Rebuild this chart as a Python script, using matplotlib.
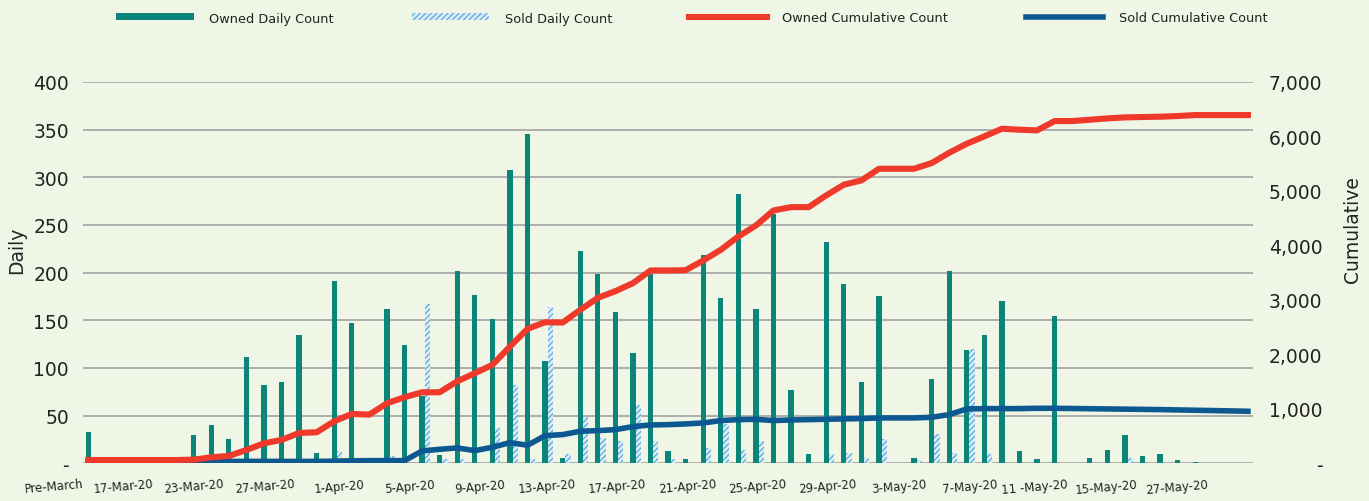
import numpy as np
import matplotlib.pyplot as plt
from matplotlib.patches import Patch
from matplotlib.lines import Line2D

# 数据
owned_daily = [33, 0, 0, 0, 0, 0, 30, 40, 26, 111, 82, 85, 135, 11, 191, 147, 0,
               162, 124, 71, 9, 202, 177, 151, 308, 345, 107, 6, 223, 199, 159, 116,
               199, 13, 4, 219, 173, 282, 162, 262, 77, 10, 232, 188, 85, 176, 0,
               6, 88, 202, 119, 135, 170, 13, 5, 154, 0, 6, 14, 30, 8, 10, 3, 1, 0.5,
               0, 0]
sold_daily = [0, 0, 0, 0, 0, 0, 0, 0, 0, 0, 0, 0, 0, 0, 13, 3, 0,
              8, 0, 167, 4, 4, 0, 37, 82, 4, 164, 10, 49, 27, 23, 61,
              23, 4, 0, 16, 41, 14, 23, 0, 0, 0, 10, 11, 6, 25, 0,
              3, 31, 11, 120, 10, 0, 0, 0, 0, 0, 0, 0, 6, 0, 0, 0, 0, 0,
              0, 0]
owned_cum = [60, 60, 60, 60, 60, 60, 67, 110, 135, 245, 367, 429, 557, 570, 772, 906, 894,
             1102, 1213, 1304, 1304, 1506, 1653, 1807, 2143, 2468, 2590, 2584, 2817, 3037,
             3160, 3307, 3540, 3540, 3545, 3723, 3919, 4164, 4366, 4642, 4703, 4703, 4918,
             5114, 5193, 5407, 5407, 5407, 5512, 5701, 5867, 6002, 6142, 6124, 6112, 6283,
             6283, 6307, 6332, 6350, 6357, 6363, 6375, 6393, 6393, 6393, 6393]
sold_cum = [35, 35, 35, 35, 35, 35, 35, 35, 35, 35, 35, 35, 35, 35, 40, 45, 49,
            49, 49, 227, 257, 282, 233, 294, 380, 331, 508, 527, 588, 600, 618, 674,
            704, 710, 723, 741, 784, 802, 808, 784, 796, 802, 808, 815, 821, 833, 833,
            833, 845, 894, 998, 1004, 1004, 1004, 1010, 1010, 1006, 1002, 998, 994, 990,
            986, 980, 974, 968, 962, 955]
tick_labels = ['Pre-March', '17-Mar-20', '23-Mar-20', '27-Mar-20', '1-Apr-20', '5-Apr-20',
               '9-Apr-20', '13-Apr-20', '17-Apr-20', '21-Apr-20', '25-Apr-20', '29-Apr-20',
               '3-May-20', '7-May-20', '11 -May-20', '15-May-20', '27-May-20']

bg = '#eff6e6'
teal = '#0b857a'
hatch_blue = '#4aa3dc'
red = '#ef3a2b'
navy = '#0c5890'

plt.rcParams['font.family'] = ['DejaVu Sans']
plt.rcParams['hatch.linewidth'] = 0.8
plt.rcParams['hatch.color'] = hatch_blue

fig = plt.figure(figsize=(13.69, 5.02), dpi=100, facecolor=bg)
ax = fig.add_axes([83 / 1369, 1 - 464.3 / 502, 1170 / 1369, 381.3 / 502])
ax.set_facecolor(bg)

x = np.arange(len(owned_daily))
w = 0.3
ax.bar(x, owned_daily, width=w, color=teal, zorder=2)
ax.bar(x + w, sold_daily, width=w, facecolor='#dcecf7', edgecolor=hatch_blue,
       hatch='//////', linewidth=0, zorder=2)

ax.set_xlim(-0.19, 66.29)
ax.set_ylim(0, 400)
ax.set_yticks(np.arange(0, 401, 50))
ax.set_yticklabels(['-'] + [str(v) for v in range(50, 401, 50)])
ax.grid(axis='y', color='#a9a9a9', linewidth=1.3, zorder=0)
ax.set_axisbelow(True)
ax.set_xticks(np.arange(0, 65, 4) - 0.3)
ax.set_xticklabels(tick_labels, rotation=5, ha='right', va='top',
                   rotation_mode='anchor', fontsize=8.5, color='#222222')
ax.tick_params(axis='x', length=0, pad=10)
ax.tick_params(axis='y', length=0, pad=10, labelsize=13.5, colors='#222222')
for s in ax.spines.values():
    s.set_visible(False)
ax.set_ylabel('Daily', fontsize=13.5, color='#222222')
ax.yaxis.set_label_coords(-0.049, 0.56)

ax2 = ax.twinx()
xl = np.arange(len(owned_cum))
ax2.plot(xl, sold_cum, color=navy, linewidth=4.0, solid_joinstyle='round', zorder=3)
ax2.plot(xl, owned_cum, color=red, linewidth=4.4, solid_joinstyle='round', zorder=4)
ax2.set_ylim(0, 7000)
ax2.set_yticks(np.arange(0, 7001, 1000))
ax2.set_yticklabels(['-'] + ['{:,}'.format(v) for v in range(1000, 7001, 1000)])
ax2.tick_params(axis='y', length=0, pad=50, labelsize=13.5, colors='#222222')
for lab in ax2.get_yticklabels():
    lab.set_horizontalalignment('right')
for s in ax2.spines.values():
    s.set_visible(False)
ax2.set_ylabel('Cumulative', fontsize=13.5, color='#222222')
ax2.yaxis.set_label_coords(1.077, 0.615)

handles = [
    Patch(facecolor=teal, edgecolor='none'),
    Patch(facecolor='#dcecf7', edgecolor=hatch_blue, hatch='//////', linewidth=0),
    Line2D([0], [0], color=red, linewidth=4.4),
    Line2D([0], [0], color=navy, linewidth=4.0),
]
labels = ['Owned Daily Count', 'Sold Daily Count', 'Owned Cumulative Count', 'Sold Cumulative Count']
fig.legend(handles, labels, loc='center', bbox_to_anchor=(692 / 1369, 1 - 19 / 502),
           ncol=4, frameon=False, fontsize=9.3, handlelength=6, handleheight=0.45,
           handletextpad=1.2, columnspacing=6, labelcolor='#222222')

fig.savefig('out.png', dpi=100, facecolor=bg)
